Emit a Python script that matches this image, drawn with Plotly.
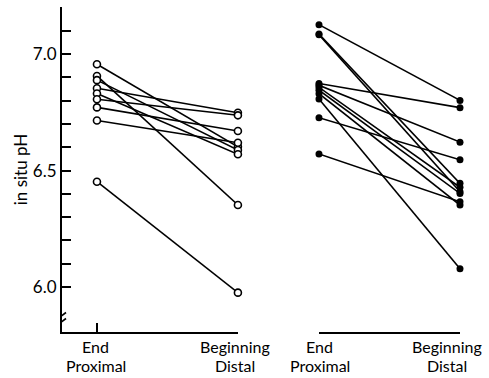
import plotly.graph_objects as go

# Left panel (open circles)
left_end_proximal = [6.956, 6.906, 6.888, 6.853, 6.831, 6.806, 6.771, 6.715, 6.452]
left_beginning_distal = [6.602, 6.352, 6.588, 6.748, 6.570, 6.737, 6.670, 6.619, 5.976]

# Right panel (filled circles)
right_end_proximal = [7.126, 7.086, 7.083, 6.874, 6.866, 6.857, 6.845, 6.830, 6.807, 6.727, 6.571]
right_beginning_distal = [6.801, 6.445, 6.409, 6.770, 6.622, 6.428, 6.402, 6.352, 6.079, 6.546, 6.366]

positions = [0, 1]
x_labels_top = ["End", "Beginning"]
x_labels_bottom = ["Proximal", "Distal"]
y_ticks = [6.0, 6.1, 6.2, 6.3, 6.4, 6.5, 6.6, 6.7, 6.8, 6.9, 7.0, 7.1]
y_tick_labels = ["6.0", "", "", "", "", "6.5", "", "", "", "", "7.0", ""]

FONT = "Lato"
fig = go.Figure()

for a, b in zip(left_end_proximal, left_beginning_distal):
    fig.add_trace(go.Scatter(
        x=positions, y=[a, b], mode="lines+markers", xaxis="x", yaxis="y",
        line=dict(color="black", width=1.6),
        marker=dict(symbol="circle", size=7, color="white",
                    line=dict(color="black", width=1.6)),
        cliponaxis=False, showlegend=False, hoverinfo="skip"))

for a, b in zip(right_end_proximal, right_beginning_distal):
    fig.add_trace(go.Scatter(
        x=positions, y=[a, b], mode="lines+markers", xaxis="x2", yaxis="y",
        line=dict(color="black", width=1.6),
        marker=dict(symbol="circle", size=7, color="black"),
        cliponaxis=False, showlegend=False, hoverinfo="skip"))

axis_common = dict(
    showgrid=False, zeroline=False, showline=True, linecolor="black", linewidth=2,
    ticks="inside", ticklen=9, tickwidth=1.6, tickcolor="black", automargin=False,
    tickfont=dict(family=FONT, size=17, color="black"))

fig.update_layout(
    width=489, height=378,
    margin=dict(l=62, r=29, t=7, b=46),
    paper_bgcolor="white", plot_bgcolor="white",
    font=dict(family=FONT, color="black"),
    xaxis=dict(domain=[0, 0.442], range=[-0.248, 1.0], tickvals=positions,
               showticklabels=False, anchor="y", **axis_common),
    xaxis2=dict(domain=[0.6457, 1.0], range=[0, 1], tickvals=positions,
                showticklabels=False, anchor="y", **axis_common),
    yaxis=dict(range=[5.807, 7.202], tickvals=y_ticks, ticktext=y_tick_labels,
               anchor="x",
               title=dict(text="in situ pH", font=dict(family=FONT, size=17), standoff=1),
               **axis_common),
)

# category labels under each panel (two lines each)
shifts = {("x", 0): -1, ("x", 1): -3, ("x2", 0): 1, ("x2", 1): -13}
for xref in ("x", "x2"):
    for i, p in enumerate(positions):
        for txt, ys in ((x_labels_top[i], -14), (x_labels_bottom[i], -33)):
            fig.add_annotation(x=p, xref=xref, y=0, yref="paper", text=txt,
                               showarrow=False, xanchor="center", yanchor="middle",
                               xshift=shifts[(xref, p)], yshift=ys,
                               font=dict(family=FONT, size=16, color="black"))

# axis break mark
for off in (-3, 3):
    fig.add_shape(type="line", xref="x", yref="y", xsizemode="pixel", ysizemode="pixel",
                  xanchor=-0.248, yanchor=5.865, x0=-4, x1=4, y0=-3 + off, y1=3 + off,
                  line=dict(color="black", width=1.6))

fig.write_html("out.html", config={"displayModeBar": False},
               post_script="document.body.style.margin='0';document.body.style.overflow='hidden';")
